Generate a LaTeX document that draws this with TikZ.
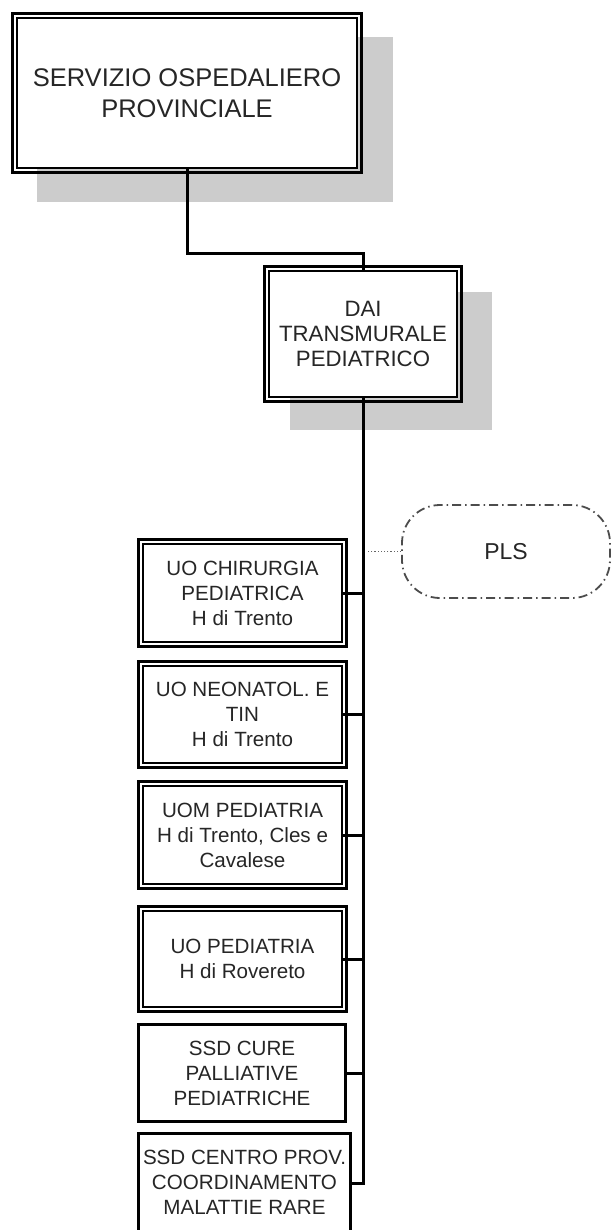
\documentclass[tikz,border=0pt]{standalone}
\usepackage{fontspec}
\setmainfont{Liberation Sans}
\usetikzlibrary{backgrounds}

\begin{document}
\begin{tikzpicture}
  [x=1pt,y=-1pt,every node/.style={align=center,text=black!85,fill=white},
   twin/.style={draw,line width=1.6pt,inner sep=2pt},
   rim/.style={line width=3.2pt},
   unit/.style={twin,font=\fontsize{20.6}{25}\selectfont,minimum width=199pt},
   ssd/.style={draw,line width=2.5pt,inner sep=2pt,font=\fontsize{20.6}{25}\selectfont},
   wire/.style={line width=3pt},
   shade/.style={fill=black!20}]

  \tikzstyle{pls} = [draw=black!70,line width=1.8pt,rounded corners=38pt,
    dash pattern=on 9pt off 4pt on 1.5pt off 4pt,font=\fontsize{23}{27}\selectfont]

  \useasboundingbox (0,0) rectangle (612,1230);

  \node[twin,font=\fontsize{25.5}{31}\selectfont,minimum width=340pt,minimum height=150pt]
    (sop) at (187,93) {SERVIZIO OSPEDALIERO\\PROVINCIALE};
  \node[twin,font=\fontsize{22.2}{25}\selectfont,minimum width=188pt,minimum height=126pt]
    (dai) at (363,334) {DAI\\TRANSMURALE\\PEDIATRICO};

  \node[unit,minimum height=98pt] (chir) at (242.5,593)   {UO CHIRURGIA\\PEDIATRICA\\H di Trento};
  \node[unit,minimum height=97pt] (neo)  at (242.5,714.5) {UO NEONATOL. E\\TIN\\H di Trento};
  \node[unit,minimum height=98pt] (uom)  at (242.5,835)   {UOM PEDIATRIA\\H di Trento, Cles e\\Cavalese};
  \node[unit,minimum height=96pt] (rov)  at (242.5,959)   {UO PEDIATRIA\\H di Rovereto};
  \node[ssd,minimum width=207pt,minimum height=97pt] (cure) at (242,1073) {SSD CURE\\PALLIATIVE\\PEDIATRICHE};
  \node[ssd,minimum width=212pt,anchor=north,inner ysep=17pt,text depth=20pt]
    (rare) at (244.5,1132) {SSD CENTRO PROV.\\COORDINAMENTO\\MALATTIE RARE};

  \node[pls,minimum width=208pt,minimum height=93pt] (pls) at (506,551.5) {PLS};

  % outer rim of the double frames
  \foreach \b in {sop,dai,chir,neo,uom,rov}
    \draw[rim] ([shift={(-3.6pt,3.6pt)}]\b.north west) rectangle ([shift={(3.6pt,-3.6pt)}]\b.south east);

  % shadows
  \begin{scope}[on background layer]
    \fill[shade] ([shift={(20.8pt,-19.8pt)}]sop.north west) rectangle ([shift={(35.2pt,-33.2pt)}]sop.south east);
    \fill[shade] ([shift={(21.8pt,-21.8pt)}]dai.north west) rectangle ([shift={(34.2pt,-32.2pt)}]dai.south east);
  \end{scope}

  \coordinate (m6) at (363,1183);

  \draw[wire] (sop.south) |- ([yshift=17pt]dai.north) -- (dai.north);
  \draw[wire] (dai.south) -- (m6) -- (m6 -| rare.east);
  \foreach \u in {chir,neo,uom,rov,cure}
    \draw[wire] (\u.east) -- (\u.east -| dai.south);

  \draw[dotted,black!60,line width=1.2pt,shorten >=5pt] (pls.west) -- (pls.west -| dai.south);
\end{tikzpicture}
\end{document}
